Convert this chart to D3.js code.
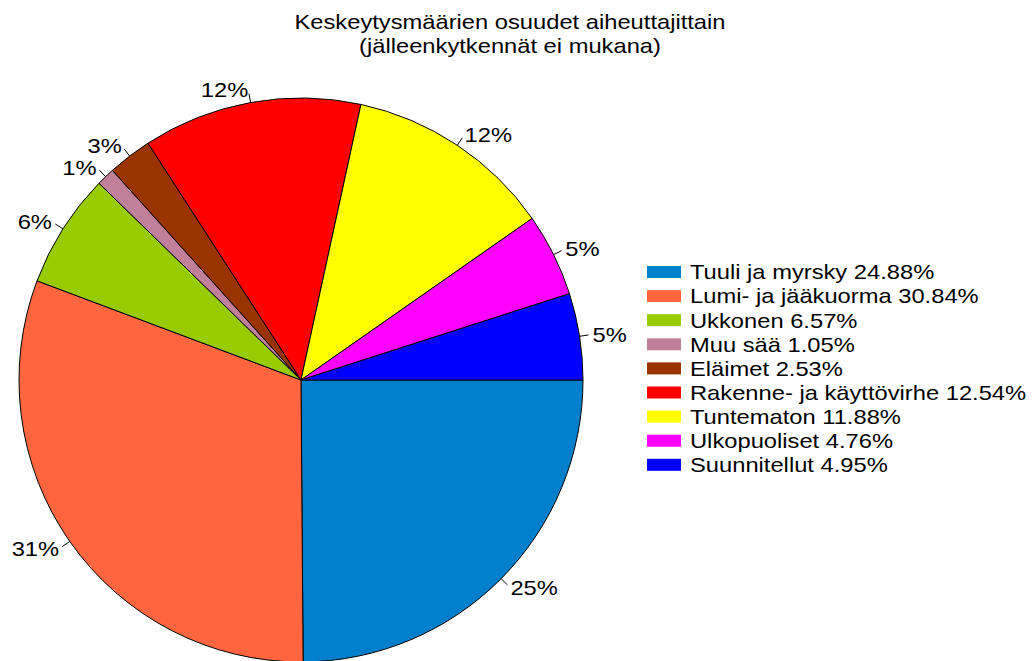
<!DOCTYPE html>
<html lang="fi">
<head>
<meta charset="utf-8">
<title>Keskeytysmäärien osuudet</title>
<script src="https://d3js.org/d3.v7.min.js"></script>
<style>
  body { margin: 0; background: #fff; }
  text { font-family: "Liberation Sans", Arial, sans-serif; fill: #000; font-size: 21px; }
</style>
</head>
<body>
<svg width="1032" height="661"></svg>
<script>
// data
var categories = ["Tuuli ja myrsky", "Lumi- ja jääkuorma", "Ukkonen", "Muu sää", "Eläimet",
                  "Rakenne- ja käyttövirhe", "Tuntematon", "Ulkopuoliset", "Suunnitellut"];
var shares = [24.88, 30.84, 6.57, 1.05, 2.53, 12.54, 11.88, 4.76, 4.95];
var sliceLabels = ["25%", "31%", "6%", "1%", "3%", "12%", "12%", "5%", "5%"];
var colors = ["#0080cc", "#ff6640", "#99cc00", "#c0809a", "#993300",
              "#ff0000", "#ffff00", "#ff00ff", "#0000ff"];
var titleLines = ["Keskeytysmäärien osuudet aiheuttajittain", "(jälleenkytkennät ei mukana)"];

var svg = d3.select("svg");
var cx = 301, cy = 380, r = 282;
var stretch = 1.13; // text in the original is a bit wide

function putText(sel, x, y, anchor) {
  return sel.append("g")
    .attr("transform", "translate(" + x + "," + y + ") scale(" + stretch + ",1)")
    .append("text").attr("text-anchor", anchor || "start");
}

// title
titleLines.forEach(function(t, i) {
  putText(svg, 510, 29 + i * 24, "middle").text(t);
});

// pie starts at 3 o'clock, going clockwise
var pie = d3.pie().sort(null).value(function(d) { return d; })
  .startAngle(Math.PI / 2).endAngle(Math.PI / 2 + 2 * Math.PI);
var arcs = pie(shares);
var arc = d3.arc().innerRadius(0).outerRadius(r);

var g = svg.append("g").attr("transform", "translate(" + cx + "," + cy + ")");

g.selectAll("path").data(arcs).enter().append("path")
  .attr("d", arc)
  .attr("fill", function(d, i) { return colors[i]; })
  .attr("stroke", "#000")
  .attr("stroke-width", 1);

// labels with little ticks
function mid(d) { return (d.startAngle + d.endAngle) / 2; }
function px(a, rr) { return Math.sin(a) * rr; }
function py(a, rr) { return -Math.cos(a) * rr; }

g.selectAll("line.tick").data(arcs).enter().append("line")
  .attr("x1", function(d) { return px(mid(d), r); })
  .attr("y1", function(d) { return py(mid(d), r); })
  .attr("x2", function(d) { return px(mid(d), r + 9); })
  .attr("y2", function(d) { return py(mid(d), r + 9); })
  .attr("stroke", "#000").attr("stroke-width", 1);

arcs.forEach(function(d, i) {
  var a = mid(d);
  putText(g, px(a, r + 13), py(a, r + 13), px(a, 1) >= 0 ? "start" : "end")
    .attr("dy", "0.35em")
    .text(sliceLabels[i]);
});

// legend
var legend = svg.append("g").attr("transform", "translate(647,272)");
categories.forEach(function(c, i) {
  var row = legend.append("g").attr("transform", "translate(0," + (i * 24.1) + ")");
  row.append("rect")
    .attr("x", 0).attr("y", -6).attr("width", 34).attr("height", 12)
    .attr("fill", colors[i]);
  putText(row, 43, 0).attr("dy", "0.35em").text(c + " " + shares[i].toFixed(2) + "%");
});
</script>
</body>
</html>
